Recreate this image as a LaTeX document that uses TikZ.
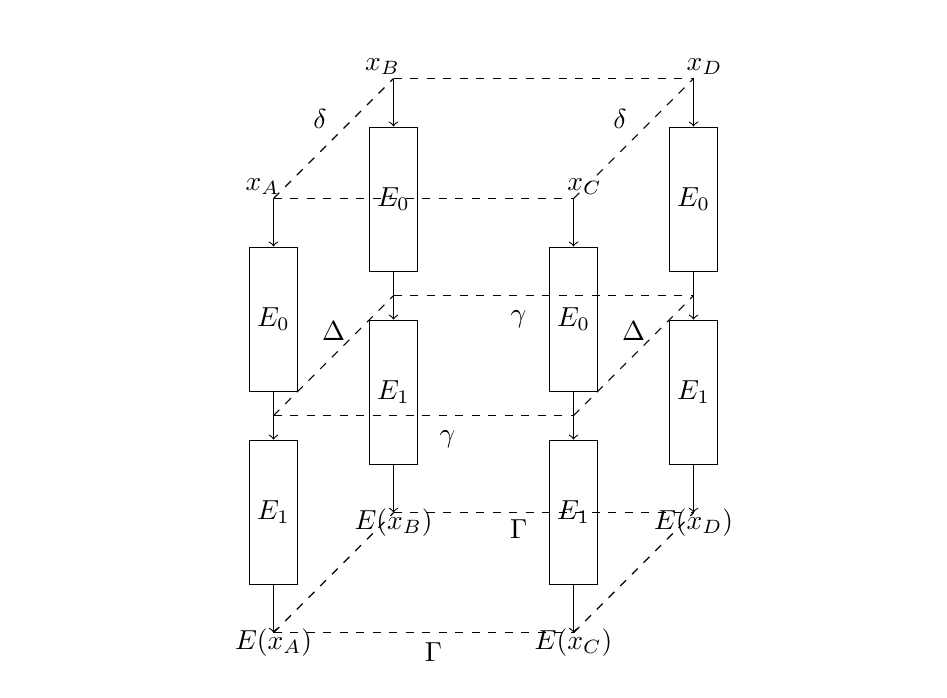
\documentclass[tikz,border=0pt]{standalone}
\usepackage{amsmath}
\usepackage{amssymb}
\usetikzlibrary{positioning}
\tikzset{
  bloque/.style={
    draw,
    minimum width=0.613cm,
    minimum height=1.839cm,
    inner sep=0pt
  },
  arrow/.style={
    ->
  },
  arista/.style={
    dashed
  }
}

\begin{document}
\begin{tikzpicture}[x=0.3065cm,y=0.3065cm]
\useasboundingbox (-11.396,-20.77) rectangle (28.062,8.271);
\coordinate (xa) at (0,0);
\coordinate (xb) at (5,5);
\coordinate (xc) at (12.5,0);
\coordinate (xd) at (17.5,5);
% columnas
\node[bloque,below=0.613cm of xa] (a0) {$E_0$};
\coordinate[below=0.3065cm of a0] (ma);
\node[bloque,below=0.3065cm of ma] (a1) {$E_1$};
\coordinate[below=0.613cm of a1] (ea);
\node[bloque,below=0.613cm of xb] (b0) {$E_0$};
\coordinate[below=0.3065cm of b0] (mb);
\node[bloque,below=0.3065cm of mb] (b1) {$E_1$};
\coordinate[below=0.613cm of b1] (eb);
\node[bloque,below=0.613cm of xc] (c0) {$E_0$};
\coordinate[below=0.3065cm of c0] (mc);
\node[bloque,below=0.3065cm of mc] (c1) {$E_1$};
\coordinate[below=0.613cm of c1] (ec);
\node[bloque,below=0.613cm of xd] (d0) {$E_0$};
\coordinate[below=0.3065cm of d0] (md);
\node[bloque,below=0.3065cm of md] (d1) {$E_1$};
\coordinate[below=0.613cm of d1] (ed);
% flechas
\foreach \c in {a,b,c,d} {
  \draw[arrow] (x\c) -- (\c0);
  \draw[arrow] (\c0) -- (\c1);
  \draw[arrow] (\c1) -- (e\c);
}
% etiquetas
\node (la) at ([shift={(-0.46,0.5)}]xa) {$x_A$};
\node (lb) at ([shift={(-0.46,0.5)}]xb) {$x_B$};
\node (lc) at ([shift={(0.46,0.5)}]xc) {$x_C$};
\node (ld) at ([shift={(0.46,0.5)}]xd) {$x_D$};
\node (lea) at ([shift={(0,-0.4)}]ea) {$E(x_A)$};
\node (leb) at ([shift={(0,-0.4)}]eb) {$E(x_B)$};
\node (lec) at ([shift={(0,-0.4)}]ec) {$E(x_C)$};
\node (led) at ([shift={(0,-0.4)}]ed) {$E(x_D)$};
% cubo
\draw[arista] (xa) -- (xc);
\draw[arista] (xb) -- (xd);
\draw[arista] (xa) -- node[above left,xshift=1pt] (d1l) {$\delta$} (xb);
\draw[arista] (xc) -- node[above left,xshift=1pt] (d2l) {$\delta$} (xd);
\draw[arista] (ma) -- node[pos=0.58,below,yshift=-2pt] (g1l) {$\gamma$} (mc);
\draw[arista] (mb) -- node[pos=0.417,below,yshift=-2pt] (g2l) {$\gamma$} (md);
\draw[arista] (ma) -- node[above,yshift=2pt] (D1l) {$\Delta$} (mb);
\draw[arista] (mc) -- node[above,yshift=2pt] (D2l) {$\Delta$} (md);
\draw[arista] (ea) -- node[pos=0.533,below] (G1l) {$\Gamma$} (ec);
\draw[arista] (eb) -- node[pos=0.417,below,yshift=1pt] (G2l) {$\Gamma$} (ed);
\draw[arista] (ea) -- (eb);
\draw[arista] (ec) -- (ed);
\end{tikzpicture}
\end{document}
